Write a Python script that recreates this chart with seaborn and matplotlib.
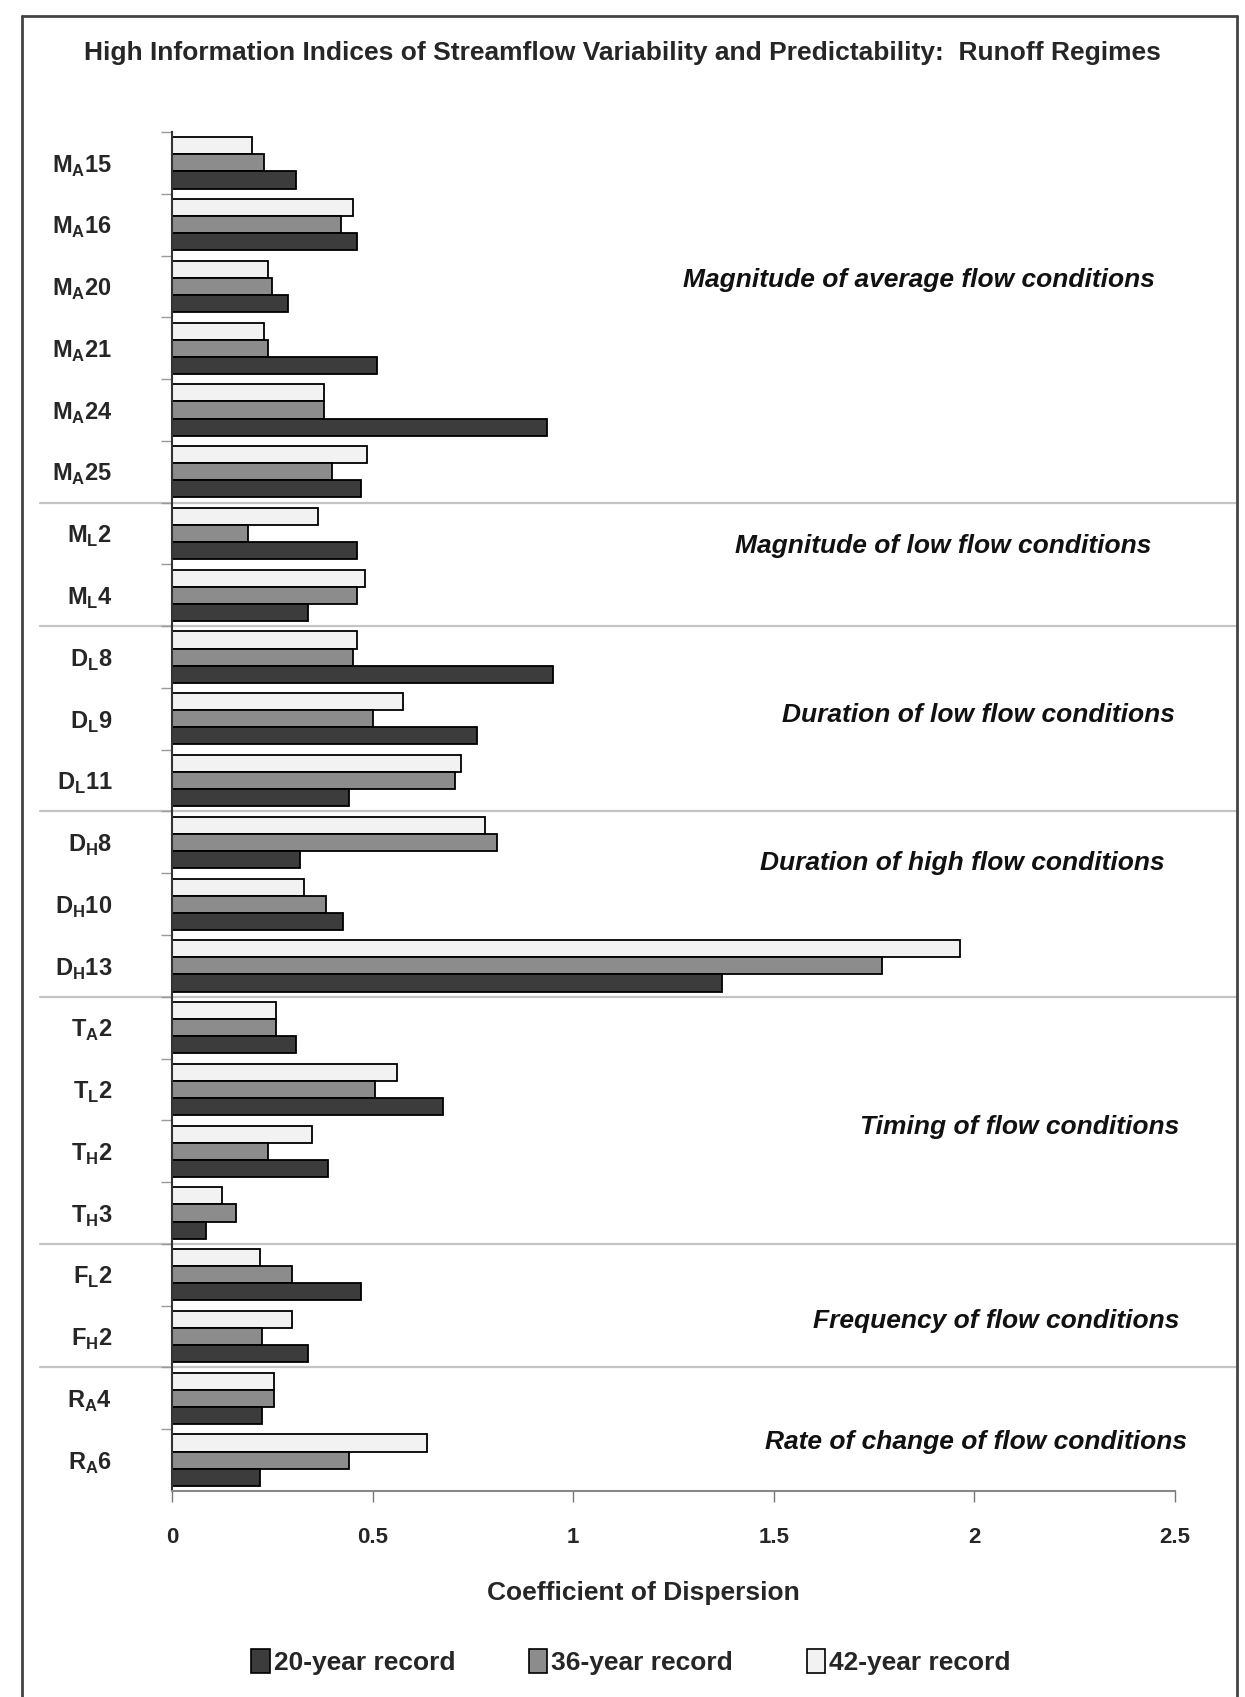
import matplotlib
matplotlib.use("Agg")
import matplotlib.pyplot as plt
import matplotlib.transforms as mtransforms
from matplotlib.lines import Line2D
from matplotlib.patches import Patch
import seaborn as sns
import pandas as pd

# index codes: (letter, subscript, number)
codes = [("M", "A", "15"), ("M", "A", "16"), ("M", "A", "20"), ("M", "A", "21"),
         ("M", "A", "24"), ("M", "A", "25"), ("M", "L", "2"), ("M", "L", "4"),
         ("D", "L", "8"), ("D", "L", "9"), ("D", "L", "11"), ("D", "H", "8"),
         ("D", "H", "10"), ("D", "H", "13"), ("T", "A", "2"), ("T", "L", "2"),
         ("T", "H", "2"), ("T", "H", "3"), ("F", "L", "2"), ("F", "H", "2"),
         ("R", "A", "4"), ("R", "A", "6")]

rec20 = [0.31, 0.46, 0.29, 0.51, 0.935, 0.47, 0.46, 0.34, 0.95, 0.76, 0.44,
         0.32, 0.425, 1.37, 0.31, 0.675, 0.39, 0.085, 0.47, 0.34, 0.225, 0.22]
rec36 = [0.23, 0.42, 0.25, 0.24, 0.38, 0.40, 0.19, 0.46, 0.45, 0.50, 0.705,
         0.81, 0.385, 1.77, 0.26, 0.505, 0.24, 0.16, 0.30, 0.225, 0.255, 0.44]
rec42 = [0.20, 0.45, 0.24, 0.23, 0.38, 0.485, 0.365, 0.48, 0.46, 0.575, 0.72,
         0.78, 0.33, 1.965, 0.26, 0.56, 0.35, 0.125, 0.22, 0.30, 0.255, 0.635]

series = ["20-year record", "36-year record", "42-year record"]
colors = {"20-year record": "#3c3c3c", "36-year record": "#8c8c8c",
          "42-year record": "#f2f2f2"}

groups = ["Magnitude of average flow conditions",
          "Magnitude of low flow conditions",
          "Duration of low flow conditions",
          "Duration of high flow conditions",
          "Timing of flow conditions",
          "Frequency of flow conditions",
          "Rate of change of flow conditions"]
group_y = [1.9, 6.2, 8.93, 11.33, 15.6, 18.75, 20.7]
group_x = [2.45, 2.44, 2.5, 2.475, 2.51, 2.51, 2.53]
separators = [5.5, 7.5, 10.5, 13.5, 17.5, 19.5]

labels = [f"{a}$_\\mathrm{{{b}}}${c}" for a, b, c in codes]

df = pd.DataFrame({"index": labels * 3,
                   "value": rec20 + rec36 + rec42,
                   "record": sum([[s] * len(labels) for s in series], [])})

sns.set_style("white")
plt.rcParams["font.family"] = ["Liberation Sans", "DejaVu Sans"]
plt.rcParams["mathtext.fontset"] = "custom"
plt.rcParams["mathtext.rm"] = "Liberation Sans:bold"
plt.rcParams["mathtext.bf"] = "Liberation Sans:bold"

fig = plt.figure(figsize=(12.45, 16.97), dpi=100)
ax = fig.add_axes([172 / 1245, 206 / 1697, 1003 / 1245, 1359 / 1697])

sns.barplot(data=df, y="index", x="value", hue="record",
            hue_order=series[::-1], palette=colors, order=labels,
            width=0.83, edgecolor="black", linewidth=1.3, ax=ax, legend=False)

ax.set_xlim(0, 2.5)
ax.set_ylim(21.5, -0.5)
ax.set_xticks([0, 0.5, 1, 1.5, 2, 2.5])
ax.set_xticklabels(["0", "0.5", "1", "1.5", "2", "2.5"])
ax.set_yticks(range(len(labels)))
ax.set_yticklabels(labels)
ax.set_yticks([i + 0.5 for i in range(-1, len(labels) - 1)], minor=True)
ax.tick_params(axis="y", which="major", length=0, pad=43, labelsize=17)
ax.tick_params(axis="y", which="minor", left=True, length=8, width=1, color="#999999")
ax.tick_params(axis="x", bottom=True, length=8, width=1, color="#777777",
               pad=18, labelsize=16)
for t in ax.get_xticklabels() + ax.get_yticklabels():
    t.set_fontweight("bold")

for s in ["top", "right"]:
    ax.spines[s].set_visible(False)
ax.spines["left"].set_color("#333333")
ax.spines["left"].set_linewidth(1.5)
ax.spines["bottom"].set_color("#888888")
ax.spines["bottom"].set_linewidth(1.5)

ax.set_xlabel("Coefficient of Dispersion", fontsize=19, fontweight="bold")
ax.xaxis.set_label_coords(0.47, -0.066)
ax.set_ylabel("")

# group separators, spanning the whole frame
trans = mtransforms.blended_transform_factory(fig.transFigure, ax.transData)
for y in separators:
    ax.plot([40 / 1245, 1236 / 1245], [y, y], color="#c4c4c4", lw=1.6,
            transform=trans, clip_on=False, zorder=0)

for g, gy, gx in zip(groups, group_y, group_x):
    ax.text(gx, gy, g, ha="right", va="center", fontsize=19,
            fontweight="bold", fontstyle="italic", color="#111111")

fig.text(0.5, 1 - 53 / 1697, "High Information Indices of Streamflow Variability "
         "and Predictability:  Runoff Regimes", ha="center", va="center",
         fontsize=19, fontweight="bold")

handles = [Patch(facecolor=colors[s], edgecolor="black", linewidth=1.2) for s in series]
fig.legend(handles, series, loc="center", bbox_to_anchor=(631 / 1245, 1 - 1662 / 1697),
           ncol=3, frameon=False, handlelength=0.7, handleheight=1.0,
           handletextpad=0.15, columnspacing=2.8,
           prop={"size": 19, "weight": "bold"})

# outer frame of the scanned figure
for xs, ys in [([22, 22], [0, 1681]), ([22, 1237], [1681, 1681]), ([1237, 1237], [1681, 0])]:
    fig.add_artist(Line2D([x / 1245 for x in xs], [y / 1697 for y in ys],
                          color="#444444", lw=2))

fig.savefig("out.png", dpi=100)
